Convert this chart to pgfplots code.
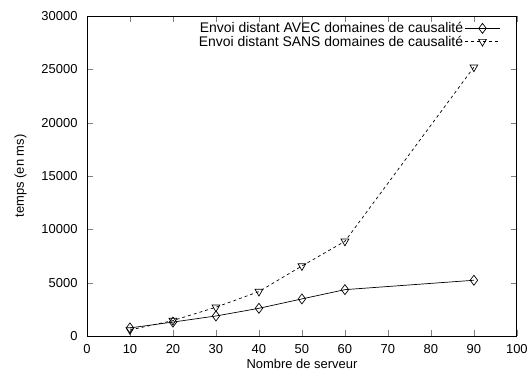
\documentclass[border=0pt]{standalone}
\usepackage{pgfplots}
\pgfplotsset{compat=1.18}
\usepackage{fontspec}
\setmainfont{Liberation Sans}
\begin{document}
\begin{tikzpicture}[x=1bp,y=1bp]
\begin{axis}[
  name=main,
  scale only axis,
  width=430bp, height=320bp,
  xmin=0, xmax=100, ymin=0, ymax=30000,
  xtick={0,10,...,100},
  ytick={0,5000,...,30000},
  scaled ticks=false,
  /pgf/number format/assume math mode=true,
  /pgf/number format/1000 sep={},
  tick label style={font=\fontsize{13}{15}\selectfont},
  label style={font=\fontsize{13}{15}\selectfont},
  yticklabel style={xshift=-6bp},
  xticklabel style={yshift=-5bp},
  tick align=inside,
  major tick length=6bp,
  axis line style={line width=0.8pt},
  xlabel={Nombre de serveur},
  ylabel={temps (en ms)},
  xlabel style={yshift=1bp},
  ylabel style={yshift=8bp},
  legend style={at={(0.962,0.985)}, anchor=north east, draw=none, fill=none,
    inner sep=0pt, font=\fontsize{14}{15}\selectfont,
    nodes={inner sep=1.5bp}, row sep=-1.5bp},
  legend cell align=right,
  legend plot pos=right,
  legend image code/.code={
    \draw[#1] (0bp,0bp) -- (35bp,0bp);
    \draw[#1] plot coordinates {(17.5bp,0bp)};
  },
]
\addplot[black, line width=0.7pt, mark=diamond, mark size=5bp, mark options={solid, fill=white}]
  coordinates {(10,750) (20,1300) (30,1870) (40,2590) (50,3470) (60,4340) (90,5220)};
\addlegendentry{Envoi distant AVEC domaines de causalité\hspace{3bp}}
\addplot[black, line width=0.7pt, dashed, mark=triangle, mark size=4.5bp, mark options={solid, fill=white, rotate=180}]
  coordinates {(10,560) (20,1440) (30,2690) (40,4160) (50,6560) (60,8870) (90,25200)};
\addlegendentry{Envoi distant SANS domaines de causalité\hspace{3bp}}
\end{axis}
\path ([yshift=16bp]main.north) ([yshift=-38bp]main.south) ([xshift=-87bp]main.west) ([xshift=14bp]main.east);
\end{tikzpicture}
\end{document}
